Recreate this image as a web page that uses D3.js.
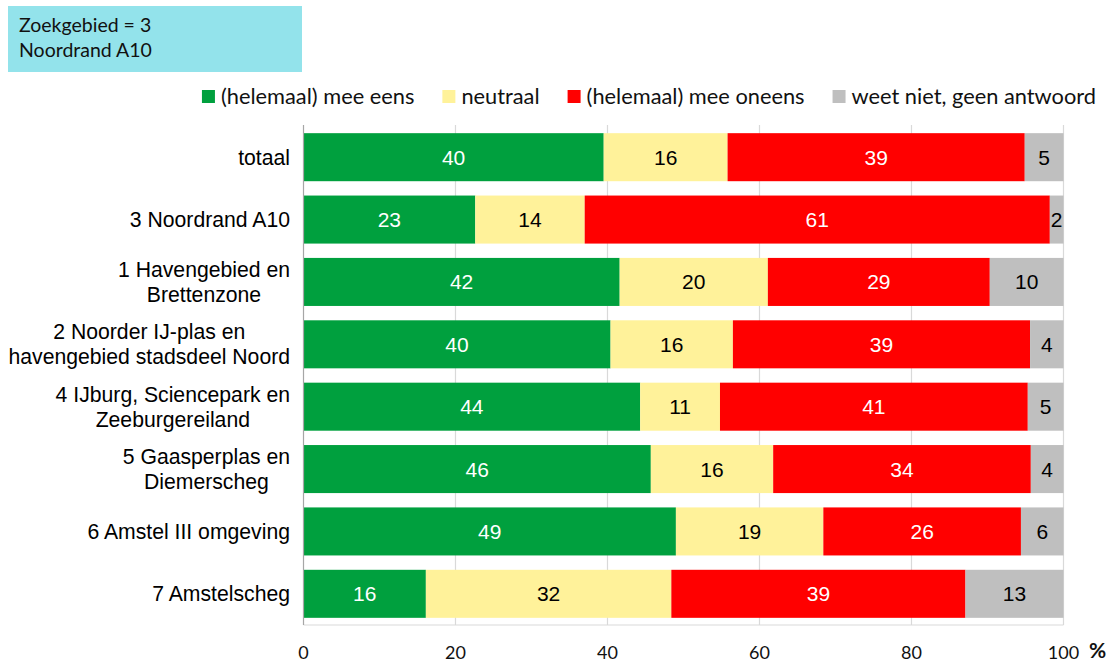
<!DOCTYPE html>
<html>
<head>
<meta charset="utf-8">
<script src="https://cdn.jsdelivr.net/npm/d3@7"></script>
<style>
  html, body { margin: 0; padding: 0; background: #fff; }
  svg { display: block; }
  .arial { font-family: "Liberation Sans", Arimo, Arial, Helvetica, sans-serif; }
  .cal { font-family: Lato, "Open Sans", sans-serif; }
</style>
</head>
<body>
<svg id="chart" width="1114" height="665"></svg>
<script>
// ---- data ----
const titleLines = ["Zoekgebied = 3", "Noordrand A10"];
const categories = [
  ["totaal"],
  ["3 Noordrand A10"],
  ["1 Havengebied en", "Brettenzone"],
  ["2 Noorder IJ-plas en", "havengebied stadsdeel Noord"],
  ["4 IJburg, Sciencepark en", "Zeeburgereiland"],
  ["5 Gaasperplas en", "Diemerscheg"],
  ["6 Amstel III omgeving"],
  ["7 Amstelscheg"]
];
const seriesNames = ["(helemaal) mee eens", "neutraal", "(helemaal) mee oneens", "weet niet, geen antwoord"];
const eens     = [39.5, 22.6, 41.6, 40.4, 44.3, 45.7, 49.0, 16.1];
const neutraal = [16.3, 14.4, 19.5, 16.1, 10.5, 16.1, 19.4, 32.3];
const oneens   = [39.1, 61.2, 29.2, 39.1, 40.5, 33.9, 26.0, 38.7];
const weetniet = [5.1, 1.8, 9.7, 4.4, 4.7, 4.3, 5.6, 12.9];
const xTicks = [0, 20, 40, 60, 80, 100];

(function () {
const colors = ["#00A03E", "#FFF29A", "#FF0000", "#BFBFBF"];
const labelColors = ["#FFFFFF", "#000000", "#FFFFFF", "#000000"];

// ---- layout ----
const svg = d3.select("#chart");
const pLeft = 303.5, pRight = 1063.5, pTop = 126, pBottom = 625;

const x = d3.scaleLinear().domain([0, 100]).range([pLeft, pRight]);
const y = d3.scaleBand().domain(d3.range(categories.length)).range([pTop, pBottom])
  .paddingInner(0.23).paddingOuter(0.115);

// title box
const tb = svg.append("g");
tb.append("rect").attr("x", 8).attr("y", 6).attr("width", 294).attr("height", 66).attr("fill", "#93E3EB");
tb.selectAll("text").data(titleLines).join("text")
  .attr("class", "cal")
  .attr("x", 19).attr("y", (d, i) => 32 + i * 25)
  .attr("font-size", 19.5)
  .attr("fill", "#111").text(d => d);

// gridlines
svg.append("g").selectAll("line").data(xTicks.slice(1)).join("line")
  .attr("x1", d => x(d)).attr("x2", d => x(d)).attr("y1", pTop - 1).attr("y2", pBottom)
  .attr("stroke", "#D9D9D9").attr("stroke-width", 1.2);
svg.append("line").attr("x1", pLeft).attr("x2", pRight).attr("y1", pBottom).attr("y2", pBottom)
  .attr("stroke", "#D9D9D9").attr("stroke-width", 1.2);

// stacked data
const stackData = categories.map((c, i) => ({ i, v: [eens[i], neutraal[i], oneens[i], weetniet[i]] }));
const stack = d3.stack().keys([0, 1, 2, 3]).value((d, k) => d.v[k]);
const layers = stack(stackData);

const gBars = svg.append("g");
layers.forEach((layer, k) => {
  const g = gBars.append("g");
  g.selectAll("rect").data(layer).join("rect")
    .attr("x", d => x(d[0])).attr("width", d => x(d[1]) - x(d[0]))
    .attr("y", d => y(d.data.i)).attr("height", y.bandwidth())
    .attr("fill", colors[k]);
  g.selectAll("text").data(layer).join("text")
    .attr("class", "arial")
    .attr("x", d => (x(d[0]) + x(d[1])) / 2)
    .attr("y", d => y(d.data.i) + y.bandwidth() / 2)
    .attr("dy", "0.36em")
    .attr("text-anchor", "middle")
    .attr("font-size", 21)
    .attr("fill", labelColors[k])
    .text(d => Math.round(d.data.v[k]));
});

// left axis line
svg.append("line").attr("x1", pLeft).attr("x2", pLeft).attr("y1", pTop - 1).attr("y2", pBottom)
  .attr("stroke", "#A6A6A6").attr("stroke-width", 1.2);

// category labels
const gCat = svg.append("g");
categories.forEach((lines, i) => {
  const cy = y(i) + y.bandwidth() / 2;
  const lh = 25;
  const t = gCat.append("text")
    .attr("class", "arial")
    .attr("font-size", 21.2)
    .attr("fill", "#000");
  lines.forEach((ln, j) => {
    const off = (j - (lines.length - 1) / 2) * lh;
    t.append("tspan").attr("x", 290).attr("y", cy + off).attr("dy", "0.36em")
      .attr("text-anchor", lines.length > 1 ? "middle" : "end")
      .text(ln);
  });
});
gCat.selectAll("text").each(function () {
  const tspans = d3.select(this).selectAll("tspan");
  if (tspans.size() > 1) {
    let w = 0;
    tspans.each(function () { w = Math.max(w, this.getComputedTextLength()); });
    tspans.attr("x", 290 - w / 2);
  }
});

// x tick labels
svg.append("g").selectAll("text").data(xTicks).join("text")
  .attr("class", "cal")
  .attr("x", d => x(d)).attr("y", 659)
  .attr("text-anchor", "middle")
  .attr("font-size", 18)
  .attr("fill", "#111").text(d => d);
svg.append("text").attr("class", "cal").attr("x", 1089).attr("y", 658)
  .attr("font-size", 21).attr("font-weight", "bold")
  .attr("fill", "#111").text("%");

// legend (right-aligned)
const lg = svg.append("g");
const items = lg.selectAll("g").data(seriesNames).join("g");
items.append("rect").attr("width", 13).attr("height", 13).attr("y", 90)
  .attr("fill", (d, i) => colors[i]);
items.append("text").attr("class", "cal").attr("x", 19).attr("y", 103.5)
  .attr("font-size", 21.8)
  .attr("fill", "#111").text(d => d);
const widths = [];
items.select("text").each(function () { widths.push(19 + this.getComputedTextLength()); });
const gap = 28;
let pos = 1096 - d3.sum(widths) - gap * (widths.length - 1);
items.attr("transform", (d, i) => {
  const t = `translate(${pos},0)`;
  pos += widths[i] + gap;
  return t;
});
})();
</script>
</body>
</html>
